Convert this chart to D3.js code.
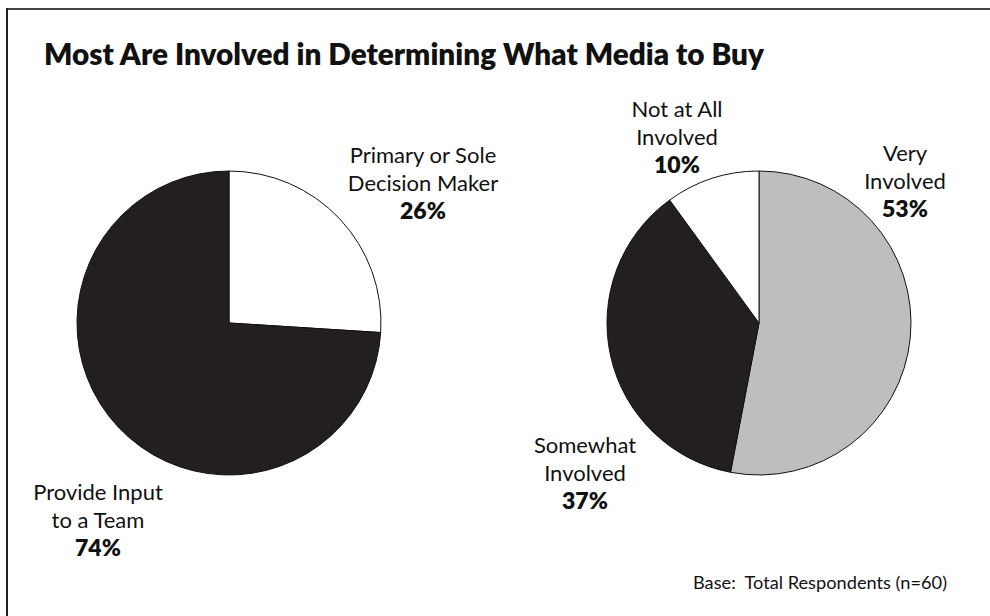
<!DOCTYPE html>
<html>
<head>
<meta charset="utf-8">
<script src="https://cdn.jsdelivr.net/npm/d3@7/dist/d3.min.js"></script>
<style>
  html, body { margin: 0; padding: 0; background: #fff; }
  svg { display: block; }
  text { font-family: Futura, "Futura PT", "Century Gothic", Lato, "DejaVu Sans", sans-serif; fill: #111; }
</style>
</head>
<body>
<svg id="chart" width="990" height="616"></svg>
<script>
// Role in media buying decisions
const roleLabels = [["Primary or Sole", "Decision Maker"], ["Provide Input", "to a Team"]];
const roleValues = [26, 74];

// Level of involvement
const involvementLabels = [["Very", "Involved"], ["Somewhat", "Involved"], ["Not at All", "Involved"]];
const involvementValues = [53, 37, 10];

const titleText = "Most Are Involved in Determining What Media to Buy";
const baseNote = "Base:\u00a0\u00a0Total Respondents (n=60)";

const DARK = "#231f20", GREY = "#bcbec0", WHITE = "#ffffff";

const svg = d3.select("#chart");

// frame lines (top and left)
svg.append("line").attr("x1", 7).attr("y1", 9).attr("x2", 990).attr("y2", 9)
  .attr("stroke", "#444").attr("stroke-width", 2);
svg.append("line").attr("x1", 7).attr("y1", 8).attr("x2", 7).attr("y2", 616)
  .attr("stroke", "#222").attr("stroke-width", 2);

// title
svg.append("text")
  .attr("x", 44).attr("y", 65)
  .attr("font-size", 30).attr("font-weight", 800)
  .attr("textLength", 720).attr("lengthAdjust", "spacingAndGlyphs")
  .text(titleText);

const radius = 152;
const pie = d3.pie().sort(null).value(d => d);
const arc = d3.arc().innerRadius(0).outerRadius(radius);

function drawPie(cx, cy, values, colors, labels, labelPos) {
  const g = svg.append("g").attr("transform", `translate(${cx},${cy})`);
  g.selectAll("path")
    .data(pie(values))
    .join("path")
    .attr("d", arc)
    .attr("fill", (d, i) => colors[i])
    .attr("stroke", "#111")
    .attr("stroke-width", 1);

  labels.forEach((lines, i) => {
    const p = labelPos[i];
    const t = svg.append("text")
      .attr("text-anchor", "middle")
      .attr("font-size", 22);
    lines.forEach((ln, j) => {
      t.append("tspan").attr("x", p.x).attr("y", p.y + j * 28).text(ln);
    });
    t.append("tspan")
      .attr("x", p.x).attr("y", p.y + lines.length * 28)
      .attr("font-weight", 800)
      .attr("font-size", 23)
      .text(values[i] + "%");
  });
}

drawPie(229, 323, roleValues, [WHITE, DARK], roleLabels,
  [{ x: 423, y: 163 }, { x: 98, y: 500 }]);

drawPie(759, 323, involvementValues, [GREY, DARK, WHITE], involvementLabels,
  [{ x: 905, y: 161 }, { x: 585, y: 453 }, { x: 677, y: 117 }]);

// base note
svg.append("text")
  .attr("x", 947).attr("y", 589)
  .attr("text-anchor", "end")
  .attr("font-size", 17)
  .attr("textLength", 254).attr("lengthAdjust", "spacingAndGlyphs")
  .text(baseNote);
</script>
</body>
</html>
